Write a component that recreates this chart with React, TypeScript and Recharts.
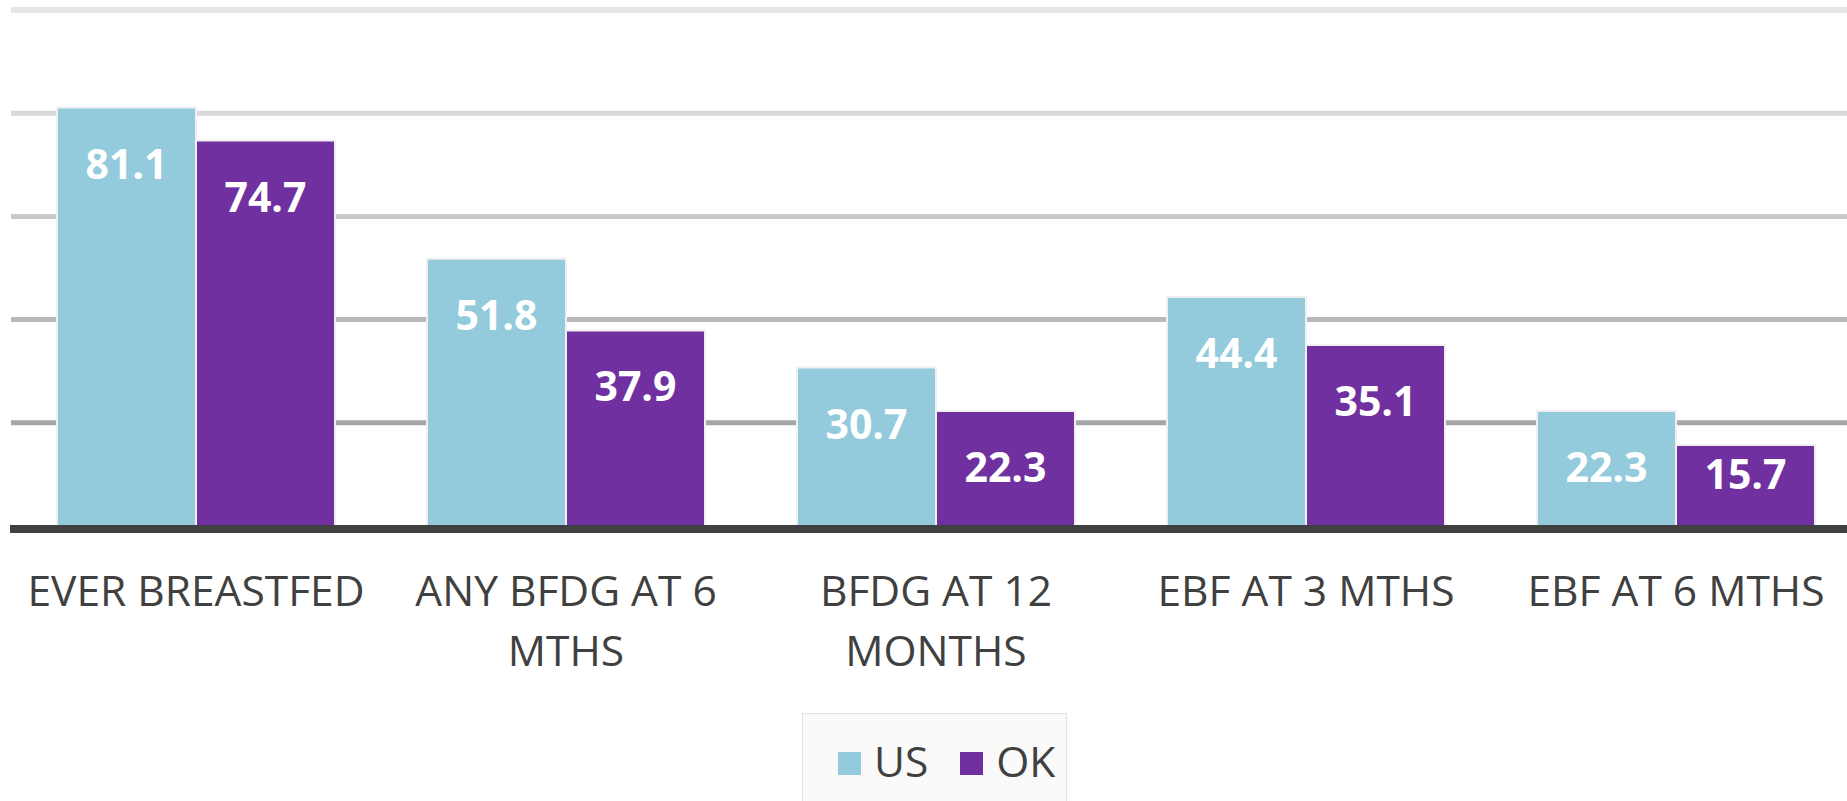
import React from 'react';
import { BarChart, Bar, XAxis, YAxis, ReferenceLine, Legend } from 'recharts';

const categories = ['EVER BREASTFED', 'ANY BFDG AT 6 MTHS', 'BFDG AT 12 MONTHS', 'EBF AT 3 MTHS', 'EBF AT 6 MTHS'];
const categoryLines = [['EVER BREASTFED'], ['ANY BFDG AT 6', 'MTHS'], ['BFDG AT 12', 'MONTHS'], ['EBF AT 3 MTHS'], ['EBF AT 6 MTHS']];
const usValues = [81.1, 51.8, 30.7, 44.4, 22.3];
const okValues = [74.7, 37.9, 22.3, 35.1, 15.7];
const seriesOrder = ['US', 'OK'];
const gridValues = [20, 40, 60, 80, 100];
const gridColors = ['#a6a6a6', '#b9b9b9', '#cacaca', '#d9d9d9', '#e6e6e6'];

const data = categories.map((c, i) => ({ name: c, US: usValues[i], OK: okValues[i] }));

const FONT = '"Open Sans", "Segoe UI", sans-serif';

const CategoryTick = (props: any) => {
  const { x, y, index } = props;
  const lines = categoryLines[index] || [props.payload.value];
  return (
    <text x={x} y={y} textAnchor="middle" fill="#404040" fontFamily={FONT} fontSize={42.5}>
      {lines.map((l: string, i: number) => (
        <tspan key={i} x={x} y={y + 80 + i * 60}>{l}</tspan>
      ))}
    </text>
  );
};

const ValueLabel = (props: any) => {
  const { x, y, width, height, value } = props;
  const cy = y + Math.min(55, height - 53);
  return (
    <text x={x + width / 2} y={cy} textAnchor="middle" dominantBaseline="central" fill="#ffffff" fontFamily={FONT} fontWeight={700} fontSize={41}>
      {value}
    </text>
  );
};

const LegendBox = (props: any) => {
  const items = [...(props.payload || [])].sort(
    (a: any, b: any) => seriesOrder.indexOf(a.value) - seriesOrder.indexOf(b.value)
  );
  return (
    <div style={{ width: 265, height: 120, boxSizing: 'border-box', border: '1px solid #e2e2e2', background: '#fafafa', display: 'flex', alignItems: 'flex-start', paddingLeft: 35, paddingTop: 18, fontFamily: FONT, fontSize: 42.5, color: '#404040', lineHeight: '58px' }}>
      {items.map((it: any, i: number) => (
        <div key={i} style={{ display: 'flex', alignItems: 'center', marginRight: 32 }}>
          <span style={{ display: 'inline-block', width: 23, height: 23, background: it.color, marginRight: 13, marginTop: 4 }} />
          <span>{it.value}</span>
        </div>
      ))}
    </div>
  );
};

export default function App() {
  return (
    <div style={{ position: 'absolute', left: 0, top: 0, width: 1847, height: 801, overflow: 'hidden', background: '#fff' }}>
      <BarChart width={1861} height={801} data={data} margin={{ top: 10, right: 0, left: 11, bottom: 0 }} barCategoryGap={46} barGap={0}>
        <XAxis dataKey="name" height={275} axisLine={false} tickLine={false} tickSize={0} tickMargin={0} tick={<CategoryTick />} interval={0} />
        <YAxis hide domain={[0, 100]} type="number" />
        {gridValues.map((v, i) => (
          <ReferenceLine key={v} y={v} stroke={gridColors[i]} strokeWidth={i === 4 ? 6 : 5} zIndex={-100} />
        ))}
        <Bar dataKey="US" name="US" fill="#93cbdc" stroke="#f0f0f0" strokeWidth={2} isAnimationActive={false} label={<ValueLabel />} />
        <Bar dataKey="OK" name="OK" fill="#7030a0" stroke="#f0f0f0" strokeWidth={2} isAnimationActive={false} label={<ValueLabel />} />
        <ReferenceLine
          y={0}
          zIndex={550}
          shape={(p: any) => <line x1={p.x1 - 1} y1={p.y1 + 3} x2={p.x2} y2={p.y2 + 3} stroke="#404040" strokeWidth={8} />}
        />
        <Legend
          layout="horizontal"
          verticalAlign="middle"
          align="center"
          itemSorter={null as any}
          content={<LegendBox />}
          wrapperStyle={{ position: 'absolute', left: 802, top: 713, width: 265, height: 120 }}
        />
      </BarChart>
    </div>
  );
}
